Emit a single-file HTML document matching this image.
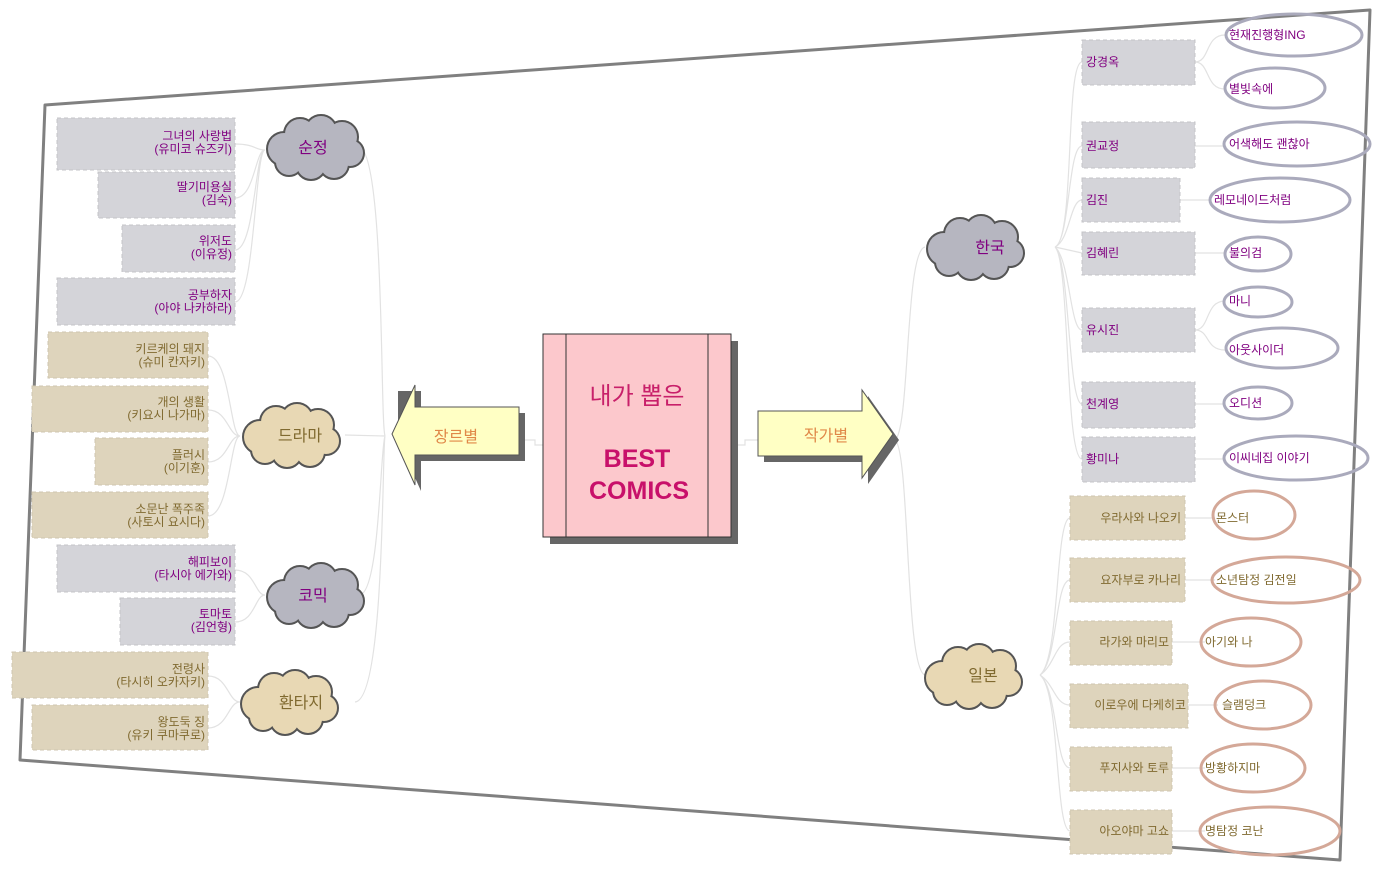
<!DOCTYPE html>
<html><head><meta charset="utf-8"><style>
html,body{margin:0;padding:0;background:#fff;width:1385px;height:869px;overflow:hidden}
svg text{font-family:"Liberation Sans","Noto Sans CJK KR",sans-serif}
.p{fill:#800080;font-size:12px}
.b{fill:#806a30;font-size:12px}
.ln{fill:none;stroke:#e2e2e2;stroke-width:1.2}
</style></head><body>
<svg width="1385" height="869" viewBox="0 0 1385 869" xmlns="http://www.w3.org/2000/svg">
<defs>
<g id="cg">
<g stroke="#555" stroke-width="4" fill="#b6b6c0">
<circle cx="20" cy="32" r="16"/><circle cx="36" cy="17" r="15"/><circle cx="57" cy="14" r="15"/><circle cx="78" cy="20" r="15"/><circle cx="86" cy="36" r="13"/><circle cx="70" cy="47" r="14"/><circle cx="47" cy="48" r="14"/><circle cx="25" cy="45" r="13"/></g>
<g fill="#b6b6c0">
<circle cx="20" cy="32" r="16"/><circle cx="36" cy="17" r="15"/><circle cx="57" cy="14" r="15"/><circle cx="78" cy="20" r="15"/><circle cx="86" cy="36" r="13"/><circle cx="70" cy="47" r="14"/><circle cx="47" cy="48" r="14"/><circle cx="25" cy="45" r="13"/><rect x="20" y="20" width="60" height="30"/></g>
</g>
<g id="ct">
<g stroke="#555" stroke-width="4" fill="#e8d8b4">
<circle cx="20" cy="32" r="16"/><circle cx="36" cy="17" r="15"/><circle cx="57" cy="14" r="15"/><circle cx="78" cy="20" r="15"/><circle cx="86" cy="36" r="13"/><circle cx="70" cy="47" r="14"/><circle cx="47" cy="48" r="14"/><circle cx="25" cy="45" r="13"/></g>
<g fill="#e8d8b4">
<circle cx="20" cy="32" r="16"/><circle cx="36" cy="17" r="15"/><circle cx="57" cy="14" r="15"/><circle cx="78" cy="20" r="15"/><circle cx="86" cy="36" r="13"/><circle cx="70" cy="47" r="14"/><circle cx="47" cy="48" r="14"/><circle cx="25" cy="45" r="13"/><rect x="20" y="20" width="60" height="30"/></g>
</g>
</defs>

<path d="M45,105 L1370,10 L1340,860 L20,760 Z" fill="#fff" stroke="#808080" stroke-width="3" stroke-linejoin="round"/>

<path class="ln" d="M360,147 C385,160 380,420 385,436 M345,435 L385,436 M360,595 C380,590 380,450 385,436 M355,702 C385,700 382,450 385,436"/>
<path class="ln" d="M235,144 C255,144 255,150 265,150 M235,198 C255,198 255,150 265,150 M235,250 C255,250 255,150 265,150 M235,302 C255,302 255,150 265,150"/>
<path class="ln" d="M208,356 C230,356 230,436 240,436 M208,410 C228,410 228,436 240,436 M208,462 C228,462 228,436 240,436 M208,516 C230,516 230,436 240,436"/>
<path class="ln" d="M235,570 C255,570 255,595 265,595 M235,622 C255,622 255,595 265,595"/>
<path class="ln" d="M208,676 C228,676 228,702 240,702 M208,728 C228,728 228,702 240,702"/>
<path class="ln" d="M519,440 L535,440 L535,445 L543,445 M731,445 L745,445 L745,440 L758,440"/>
<path class="ln" d="M895,440 C910,430 905,250 925,247 M895,440 C910,450 905,670 925,675"/>
<path class="ln" d="M1055,247 C1075,240 1065,62 1082,62 M1055,247 C1070,240 1068,146 1082,146 M1055,247 C1070,240 1070,200 1082,200 M1055,247 L1082,253 M1055,247 C1070,260 1070,330 1082,330 M1055,247 C1070,260 1068,404 1082,404 M1055,247 C1070,260 1065,459 1082,459"/>
<path class="ln" d="M1195,62 C1210,62 1205,35 1225,35 M1195,62 C1210,62 1205,89 1225,89 M1195,146 L1225,146 M1180,200 L1210,200 M1195,253 L1225,253 M1195,330 C1210,330 1205,301 1225,301 M1195,330 C1210,330 1205,350 1225,350 M1195,404 L1225,404 M1195,459 L1225,459"/>
<path class="ln" d="M1040,675 C1060,660 1055,518 1070,518 M1040,675 C1058,660 1055,580 1070,580 M1040,675 C1055,665 1055,642 1070,642 M1040,675 C1055,685 1055,705 1070,705 M1040,675 C1058,690 1055,768 1070,768 M1040,675 C1060,690 1055,831 1070,831"/>
<path class="ln" d="M1185,518 L1215,518 M1185,580 L1215,580 M1170,642 L1205,642 M1188,705 L1218,705 M1170,768 L1205,768 M1170,831 L1205,831"/>

<g fill="#d4d4d9" stroke="#c4c4c8" stroke-width="1" stroke-dasharray="4 3">
<rect x="57" y="118" width="178" height="52"/><rect x="98" y="172" width="137" height="46"/><rect x="122" y="225" width="113" height="47"/><rect x="57" y="278" width="178" height="47"/>
<rect x="57" y="545" width="178" height="47"/><rect x="120" y="598" width="115" height="47"/>
</g>
<g fill="#ded4bc" stroke="#cfc6b0" stroke-width="1" stroke-dasharray="4 3">
<rect x="48" y="332" width="160" height="46"/><rect x="32" y="386" width="176" height="46"/><rect x="95" y="438" width="113" height="47"/><rect x="32" y="492" width="176" height="46"/>
<rect x="12" y="652" width="196" height="46"/><rect x="32" y="705" width="176" height="45"/>
</g>
<g text-anchor="end">
<text class="p" x="232" y="140">그녀의 사랑법</text><text class="p" x="232" y="153">(유미코 슈즈키)</text>
<text class="p" x="232" y="191">딸기미용실</text><text class="p" x="232" y="204">(김숙)</text>
<text class="p" x="232" y="245">위저도</text><text class="p" x="232" y="258">(이유정)</text>
<text class="p" x="232" y="299">공부하자</text><text class="p" x="232" y="312">(아야 나카하라)</text>
<text class="b" x="205" y="353">키르케의 돼지</text><text class="b" x="205" y="366">(슈미 칸자키)</text>
<text class="b" x="205" y="406">개의 생활</text><text class="b" x="205" y="419">(키요시 나가마)</text>
<text class="b" x="205" y="459">플러시</text><text class="b" x="205" y="472">(이기훈)</text>
<text class="b" x="205" y="513">소문난 폭주족</text><text class="b" x="205" y="526">(사토시 요시다)</text>
<text class="p" x="232" y="566">해피보이</text><text class="p" x="232" y="579">(타시아 에가와)</text>
<text class="p" x="232" y="618">토마토</text><text class="p" x="232" y="631">(김언형)</text>
<text class="b" x="205" y="673">전령사</text><text class="b" x="205" y="686">(타시히 오카자키)</text>
<text class="b" x="205" y="726">왕도둑 징</text><text class="b" x="205" y="739">(유키 쿠마쿠로)</text>
</g>

<use href="#cg" x="264" y="117"/><text x="313" y="153" text-anchor="middle" fill="#800080" font-size="16">순정</text>
<use href="#ct" x="240" y="405"/><text x="300" y="441" text-anchor="middle" fill="#806a30" font-size="16">드라마</text>
<use href="#cg" x="264" y="565"/><text x="313" y="601" text-anchor="middle" fill="#800080" font-size="16">코믹</text>
<use href="#ct" x="238" y="672"/><text x="301" y="708" text-anchor="middle" fill="#806a30" font-size="16">환타지</text>

<polygon points="398,391 421,391 421,413 525,413 525,461 421,461 421,491 398,440" fill="#666"/>
<polygon points="392,434 415,385 415,407 519,407 519,455 415,455 415,485" fill="#ffffc4" stroke="#555" stroke-width="1"/>
<text x="456" y="442" text-anchor="middle" fill="#e08848" font-size="16">장르별</text>
<polygon points="764,417 868,417 868,396 899,440 868,484 868,462 764,462" fill="#666"/>
<polygon points="758,411 862,411 862,390 893,434 862,478 862,456 758,456" fill="#ffffc4" stroke="#555" stroke-width="1"/>
<text x="826" y="441" text-anchor="middle" fill="#e08848" font-size="16">작가별</text>

<rect x="550" y="341" width="188" height="203" fill="#666"/>
<rect x="543" y="334" width="188" height="203" fill="#fcc8cc" stroke="#333" stroke-width="1"/>
<line x1="566" y1="334" x2="566" y2="537" stroke="#333"/><line x1="708" y1="334" x2="708" y2="537" stroke="#333"/>
<text x="637" y="404" text-anchor="middle" fill="#c8206a" font-size="24">내가 뽑은</text>
<text x="637" y="467" text-anchor="middle" fill="#c8106a" font-size="25" font-weight="bold">BEST</text>
<text x="639" y="499" text-anchor="middle" fill="#c8106a" font-size="25" font-weight="bold">COMICS</text>

<use href="#cg" x="924" y="217"/><text x="990" y="253" text-anchor="middle" fill="#800080" font-size="16">한국</text>
<use href="#ct" x="922" y="646"/><text x="983" y="681" text-anchor="middle" fill="#806a30" font-size="16">일본</text>

<g fill="#d4d4d9" stroke="#c4c4c8" stroke-dasharray="4 3">
<rect x="1082" y="40" width="113" height="45"/><rect x="1082" y="122" width="113" height="46"/><rect x="1082" y="178" width="98" height="44"/><rect x="1082" y="232" width="113" height="43"/><rect x="1082" y="308" width="113" height="44"/><rect x="1082" y="382" width="113" height="46"/><rect x="1082" y="437" width="113" height="45"/>
</g>
<text class="p" x="1086" y="66">강경옥</text><text class="p" x="1086" y="150">권교정</text><text class="p" x="1086" y="204">김진</text><text class="p" x="1086" y="257">김혜린</text><text class="p" x="1086" y="334">유시진</text><text class="p" x="1086" y="408">천계영</text><text class="p" x="1086" y="463">황미나</text>
<g fill="none" stroke="#aaaabc" stroke-width="3">
<ellipse cx="1294" cy="35" rx="68" ry="21"/><ellipse cx="1275" cy="88" rx="50" ry="20"/><ellipse cx="1297" cy="144" rx="73" ry="22"/><ellipse cx="1280" cy="200" rx="70" ry="22"/><ellipse cx="1258" cy="254" rx="33" ry="17"/><ellipse cx="1258" cy="302" rx="34" ry="15"/><ellipse cx="1282" cy="348" rx="56" ry="20"/><ellipse cx="1258" cy="403" rx="34" ry="16"/><ellipse cx="1296" cy="458" rx="72" ry="22"/>
</g>
<text class="p" x="1229" y="39">현재진행형ING</text><text class="p" x="1229" y="93">별빛속에</text><text class="p" x="1229" y="148">어색해도 괜찮아</text><text class="p" x="1214" y="204">레모네이드처럼</text><text class="p" x="1229" y="257">불의검</text><text class="p" x="1229" y="305">마니</text><text class="p" x="1229" y="354">아웃사이더</text><text class="p" x="1229" y="407">오디션</text><text class="p" x="1229" y="462">이씨네집 이야기</text>

<g fill="#ded4bc" stroke="#cfc6b0" stroke-dasharray="4 3">
<rect x="1070" y="496" width="115" height="44"/><rect x="1070" y="558" width="115" height="44"/><rect x="1070" y="621" width="102" height="44"/><rect x="1070" y="684" width="118" height="44"/><rect x="1070" y="747" width="102" height="44"/><rect x="1070" y="810" width="102" height="44"/>
</g>
<g text-anchor="end">
<text class="b" x="1181" y="522">우라사와 나오키</text><text class="b" x="1181" y="584">요자부로 카나리</text><text class="b" x="1169" y="646">라가와 마리모</text><text class="b" x="1186" y="709">이로우에 다케히코</text><text class="b" x="1169" y="772">푸지사와 토루</text><text class="b" x="1169" y="835">아오야마 고쇼</text>
</g>
<g fill="none" stroke="#d4a898" stroke-width="3">
<ellipse cx="1254" cy="515" rx="41" ry="24"/><ellipse cx="1286" cy="580" rx="74" ry="23"/><ellipse cx="1251" cy="642" rx="50" ry="24"/><ellipse cx="1263" cy="705" rx="48" ry="24"/><ellipse cx="1253" cy="768" rx="52" ry="24"/><ellipse cx="1270" cy="831" rx="70" ry="24"/>
</g>
<text class="b" x="1216" y="522">몬스터</text><text class="b" x="1216" y="584">소년탐정 김전일</text><text class="b" x="1205" y="646">아기와 나</text><text class="b" x="1222" y="709">슬램덩크</text><text class="b" x="1205" y="772">방황하지마</text><text class="b" x="1205" y="835">명탐정 코난</text>
</svg>
</body></html>
